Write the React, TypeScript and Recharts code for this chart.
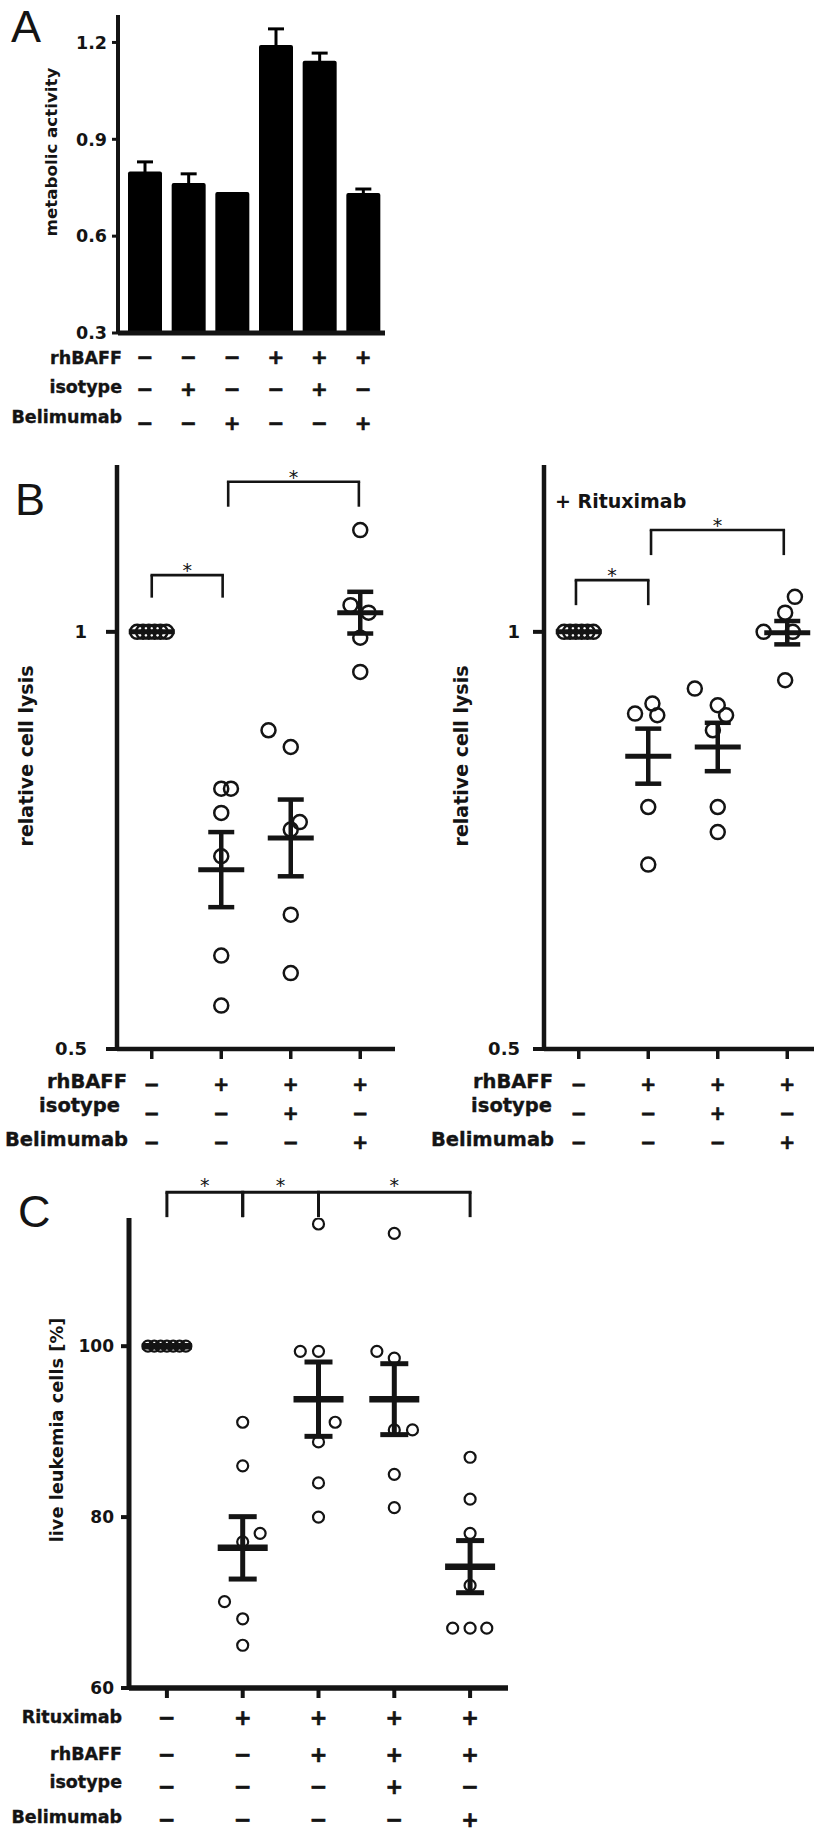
import React from 'react';
import {
  BarChart, Bar, ScatterChart, Scatter, XAxis, YAxis, ErrorBar, ReferenceLine, ReferenceDot,
} from 'recharts';

const FONT = '"DejaVu Sans", Verdana, sans-serif';
const INK = '#141414';

// ---------- A: metabolic activity ----------
const aConditions = ['control', 'isotype', 'Belimumab', 'rhBAFF', 'rhBAFF+isotype', 'rhBAFF+Belimumab'];
const aMeans = [0.8, 0.765, 0.737, 1.192, 1.143, 0.734];
const aErrors = [0.03, 0.028, 0, 0.05, 0.024, 0.012];
const aTicks = [0.3, 0.6, 0.9, 1.2];
const aRowLabels = ['rhBAFF', 'isotype', 'Belimumab'];
const aRhBAFF = [false, false, false, true, true, true];
const aIsotype = [false, true, false, false, true, false];
const aBelimumab = [false, false, true, false, false, true];

// ---------- B: relative cell lysis ----------
const bTicks = [0.5, 1];
const bGroups = [1, 2, 3, 4];
const bRowLabels = ['rhBAFF', 'isotype', 'Belimumab'];
const bRhBAFF = [false, true, true, true];
const bIsotype = [false, false, true, false];
const bBelimumab = [false, false, false, true];

const bLeftValues = [
  [1, 1, 1, 1, 1, 1],
  [0.812, 0.812, 0.783, 0.731, 0.612, 0.552],
  [0.882, 0.862, 0.772, 0.763, 0.661, 0.591],
  [1.122, 1.032, 1.023, 0.993, 0.952],
];
const bLeftJitter = [
  [-0.21, -0.125, -0.042, 0.042, 0.125, 0.21],
  [0, 0.14, 0, 0, 0, 0],
  [-0.32, 0, 0.13, 0, 0, 0],
  [0, -0.14, 0.12, 0, 0],
];
const bLeftMeans = [1, 0.715, 0.753, 1.023];
const bLeftSem = [0, 0.045, 0.046, 0.025];
const bLeftBrackets = [
  { from: 1, to: 2.02, top: 1.068, foot: 1.041 },
  { from: 2.1, to: 3.98, top: 1.18, foot: 1.15 },
];

const bRightValues = [
  [1, 1, 1, 1, 1, 1],
  [0.902, 0.914, 0.9, 0.79, 0.721],
  [0.932, 0.912, 0.9, 0.882, 0.79, 0.76],
  [1.042, 1.023, 1.0, 1.0, 0.942],
];
const bRightJitter = [
  [-0.21, -0.125, -0.042, 0.042, 0.125, 0.21],
  [-0.19, 0.06, 0.13, 0, 0],
  [-0.33, 0, 0.12, -0.07, 0, 0],
  [0.11, -0.03, -0.34, 0.08, -0.03],
];
const bRightMeans = [1, 0.851, 0.862, 0.999];
const bRightSem = [0, 0.033, 0.029, 0.014];
const bRightBrackets = [
  { from: 0.96, to: 2.0, top: 1.062, foot: 1.032 },
  { from: 2.04, to: 3.95, top: 1.122, foot: 1.092 },
];

// ---------- C: live leukemia cells ----------
const cTicks = [60, 80, 100];
const cGroups = [1, 2, 3, 4, 5];
const cRowLabels = ['Rituximab', 'rhBAFF', 'isotype', 'Belimumab'];
const cRituximab = [false, true, true, true, true];
const cRhBAFF = [false, false, true, true, true];
const cIsotype = [false, false, false, true, false];
const cBelimumab = [false, false, false, false, true];
const cValues = [
  [100, 100, 100, 100, 100, 100, 100],
  [91.1, 86.0, 78.1, 77.1, 70.1, 68.1, 65.0],
  [114.3, 99.4, 99.4, 91.1, 88.8, 84.0, 80.0],
  [113.2, 99.4, 98.6, 90.2, 90.2, 85.0, 81.1],
  [87.0, 82.1, 78.1, 72.0, 67.0, 67.0, 67.0],
];
const cJitter = [
  [-0.25, -0.167, -0.083, 0, 0.083, 0.167, 0.25],
  [0, 0, 0.23, 0, -0.24, 0, 0],
  [0, -0.24, 0, 0.22, 0, 0, 0],
  [0, -0.23, 0, 0.24, 0, 0, 0],
  [0, 0, 0, 0, -0.23, 0, 0.22],
];
const cMeans = [100, 76.4, 93.8, 93.8, 74.2];
const cSem = [0, 3.65, 4.35, 4.15, 3.05];
const cBrackets = [
  { from: 1, to: 2, top: 118.0, foot: 115.1 },
  { from: 2, to: 3, top: 118.0, foot: 115.1 },
  { from: 3, to: 5, top: 118.0, foot: 115.1 },
];

const toPoints = (values: number[][], jitter: number[][]) =>
  values.flatMap((g, i) => g.map((y, j) => ({ x: i + 1 + jitter[i][j], y })));
const toMeans = (means: number[], sem: number[]) =>
  means.map((y, i) => ({ x: i + 1, y, sem: sem[i] }));

const aData = aConditions.map((name, i) => ({ name, mean: aMeans[i], err: aErrors[i] }));

// +/- table under an x axis, one column per tick
const signTick = (rows: boolean[][], symbolMid: number[], symFs: number) => (props: any) => {
  const { x, index } = props;
  return (
    <g>
      {rows.map((row, r) => (
        <text key={r} x={x} y={symbolMid[r] + symFs * 0.36} textAnchor="middle"
          fontFamily={FONT} fontWeight={700} fontSize={symFs} fill={INK}
          stroke={INK} strokeWidth={0.7}>
          {row[index] ? '+' : '\u2212'}
        </text>
      ))}
    </g>
  );
};

const ring = (r: number, sw: number) => (p: any) =>
  <circle cx={p.cx} cy={p.cy} r={r} fill="none" stroke={INK} strokeWidth={sw} />;
const meanMark = (hw: number, sw: number) => (p: any) =>
  <line x1={p.cx - hw} x2={p.cx + hw} y1={p.cy} y2={p.cy} stroke={INK} strokeWidth={sw} />;

const bracketLines = (list: any[], sw: number, lift: number, fs: number) => [
  ...list.flatMap((b, i) => [
    <ReferenceLine key={`h${i}`} segment={[{ x: b.from, y: b.top }, { x: b.to, y: b.top }]}
      stroke={INK} strokeWidth={sw} strokeLinecap="square" ifOverflow="visible" />,
    <ReferenceLine key={`a${i}`} segment={[{ x: b.from, y: b.top }, { x: b.from, y: b.foot }]}
      stroke={INK} strokeWidth={sw} ifOverflow="visible" />,
    <ReferenceLine key={`b${i}`} segment={[{ x: b.to, y: b.top }, { x: b.to, y: b.foot }]}
      stroke={INK} strokeWidth={sw} ifOverflow="visible" />,
  ]),
  ...list.map((b, i) => (
    <ReferenceDot key={`s${i}`} x={(b.from + b.to) / 2} y={b.top + lift} r={1} ifOverflow="visible"
      shape={(p: any) => (
        <text x={p.cx} y={p.cy + fs * 0.55} textAnchor="middle" fontFamily={FONT}
          fontSize={fs} fill={INK}>*</text>
      )} />
  )),
];

const axisTick = (fs: number) => ({ fill: INK, fontSize: fs, fontWeight: 700, fontFamily: FONT });

const B_TOP = 455;
const C_TOP = 1160;

function PanelB({ left, values, jitter, means, sem, brackets, tickMargin }: any) {
  return (
    <div style={{ position: 'absolute', left, top: B_TOP }}>
      <ScatterChart width={402} height={700} margin={{ top: 10, right: 7, left: 0, bottom: 0 }}>
        <XAxis type="number" dataKey="x" domain={[0.5, 4.5]} ticks={bGroups} interval={0}
          allowDataOverflow height={106}
          axisLine={{ stroke: INK, strokeWidth: 4.5 }} tickLine={{ stroke: INK, strokeWidth: 3.5 }}
          tickSize={10}
          tick={signTick([bRhBAFF, bIsotype, bBelimumab], [1084 - B_TOP, 1113 - B_TOP, 1142 - B_TOP], 19)} />
        <YAxis type="number" dataKey="y" domain={[0.5, 1.2]} ticks={bTicks} interval={0}
          allowDataOverflow width={117}
          axisLine={{ stroke: INK, strokeWidth: 4.5 }} tickLine={{ stroke: INK, strokeWidth: 4 }}
          tickSize={11} tickMargin={tickMargin} tick={axisTick(18)} tickFormatter={(v: number) => String(v)} />
        {bracketLines(brackets, 2.6, 0.01, 19)}
        <Scatter data={toMeans(means, sem)} shape={meanMark(23, 5)} isAnimationActive={false}>
          <ErrorBar dataKey="sem" direction="y" width={13} strokeWidth={4.5} stroke={INK} />
        </Scatter>
        <Scatter data={toPoints(values, jitter)} shape={ring(7, 2.5)} isAnimationActive={false} />
      </ScatterChart>
    </div>
  );
}

// row names of the +/- tables, right aligned
const RowNames = ({ labels, right, base, fs }: any) => (
  <g fontFamily={FONT} fontWeight={700} fontSize={fs} fill={INK} stroke={INK} strokeWidth={0.35} textAnchor="end">
    {labels.map((l: string, i: number) => <text key={i} x={right[i]} y={base[i]}>{l}</text>)}
  </g>
);

export default function App() {
  return (
    <div style={{ position: 'absolute', left: 0, top: 0, width: 814, height: 1831, overflow: 'hidden', background: '#fff' }}>
      {/* A */}
      <div style={{ position: 'absolute', left: 0, top: 0 }}>
        <BarChart width={400} height={440} data={aData} margin={{ top: 15, right: 15, left: 0, bottom: 0 }}>
          <XAxis dataKey="name" height={107} interval={0} padding={{ left: 5, right: 0 }}
            axisLine={{ stroke: INK, strokeWidth: 5 }} tickLine={false}
            tick={signTick([aRhBAFF, aIsotype, aBelimumab], [357, 389, 423], 20)} />
          <YAxis type="number" domain={[0.3, 1.285]} ticks={aTicks} interval={0} allowDataOverflow width={118}
            axisLine={{ stroke: INK, strokeWidth: 4 }} tickLine={{ stroke: INK, strokeWidth: 3 }}
            tickSize={6} tickMargin={5} tick={axisTick(17.5)} tickFormatter={(v: number) => v.toFixed(1)} />
          <Bar dataKey="mean" fill="#000" barSize={34} radius={[2, 2, 0, 0]} isAnimationActive={false}>
            <ErrorBar dataKey="err" width={8} strokeWidth={3} stroke="#000" />
          </Bar>
        </BarChart>
      </div>

      {/* B */}
      <PanelB left={0} values={bLeftValues} jitter={bLeftJitter} means={bLeftMeans} sem={bLeftSem}
        brackets={bLeftBrackets} tickMargin={19} />
      <PanelB left={427} values={bRightValues} jitter={bRightJitter} means={bRightMeans} sem={bRightSem}
        brackets={bRightBrackets} tickMargin={13} />

      {/* C */}
      <div style={{ position: 'absolute', left: 0, top: C_TOP }}>
        <ScatterChart width={520} height={671} margin={{ top: 58, right: 12, left: 0, bottom: 0 }}>
          <XAxis type="number" dataKey="x" domain={[0.5, 5.5]} ticks={cGroups} interval={0}
            allowDataOverflow height={143}
            axisLine={{ stroke: INK, strokeWidth: 5.5 }} tickLine={{ stroke: INK, strokeWidth: 4 }}
            tickSize={10}
            tick={signTick([cRituximab, cRhBAFF, cIsotype, cBelimumab],
              [1717 - C_TOP, 1754 - C_TOP, 1786 - C_TOP, 1819 - C_TOP], 21)} />
          <YAxis type="number" dataKey="y" domain={[60, 115]} ticks={cTicks} interval={0}
            allowDataOverflow width={129}
            axisLine={{ stroke: INK, strokeWidth: 5 }} tickLine={{ stroke: INK, strokeWidth: 4 }}
            tickSize={8} tickMargin={7} tick={axisTick(17)} />
          {bracketLines(cBrackets, 3, 1.3, 19)}
          <Scatter data={toMeans(cMeans, cSem)} shape={meanMark(25, 6.5)} isAnimationActive={false}>
            <ErrorBar dataKey="sem" direction="y" width={14} strokeWidth={5} stroke={INK} />
          </Scatter>
          <Scatter data={toPoints(cValues, cJitter)} shape={ring(5.5, 2.2)} isAnimationActive={false} />
        </ScatterChart>
      </div>

      {/* letters, axis titles, row names */}
      <svg width={814} height={1831} style={{ position: 'absolute', left: 0, top: 0, pointerEvents: 'none' }}>
        <g fontFamily='"Liberation Sans", Arial, sans-serif' fontSize={45} fill={INK}>
          <text x={11} y={42}>A</text>
          <text x={15} y={515}>B</text>
          <text x={18} y={1227}>C</text>
        </g>
        <g fontFamily={FONT} fontWeight={700} fill={INK} textAnchor="middle">
          <text transform="translate(57,152) rotate(-90)" fontSize={16.7}>metabolic activity</text>
          <text transform="translate(33,756) rotate(-90)" fontSize={19}>relative cell lysis</text>
          <text transform="translate(468,756) rotate(-90)" fontSize={19}>relative cell lysis</text>
          <text transform="translate(63,1430) rotate(-90)" fontSize={17.8}>live leukemia cells [%]</text>
        </g>
        <text x={555} y={508} fontFamily={FONT} fontWeight={700} fontSize={19} fill={INK}>+ Rituximab</text>
        <RowNames labels={aRowLabels} right={[122, 122, 122]} base={[364, 393, 423]} fs={17.5} />
        <RowNames labels={bRowLabels} right={[127, 120, 128]} base={[1088, 1112, 1146]} fs={19.5} />
        <RowNames labels={bRowLabels} right={[553, 552, 554]} base={[1088, 1112, 1146]} fs={19.5} />
        <RowNames labels={cRowLabels} right={[122, 122, 122, 122]} base={[1723, 1760, 1788, 1823]} fs={17.5} />
      </svg>
    </div>
  );
}
